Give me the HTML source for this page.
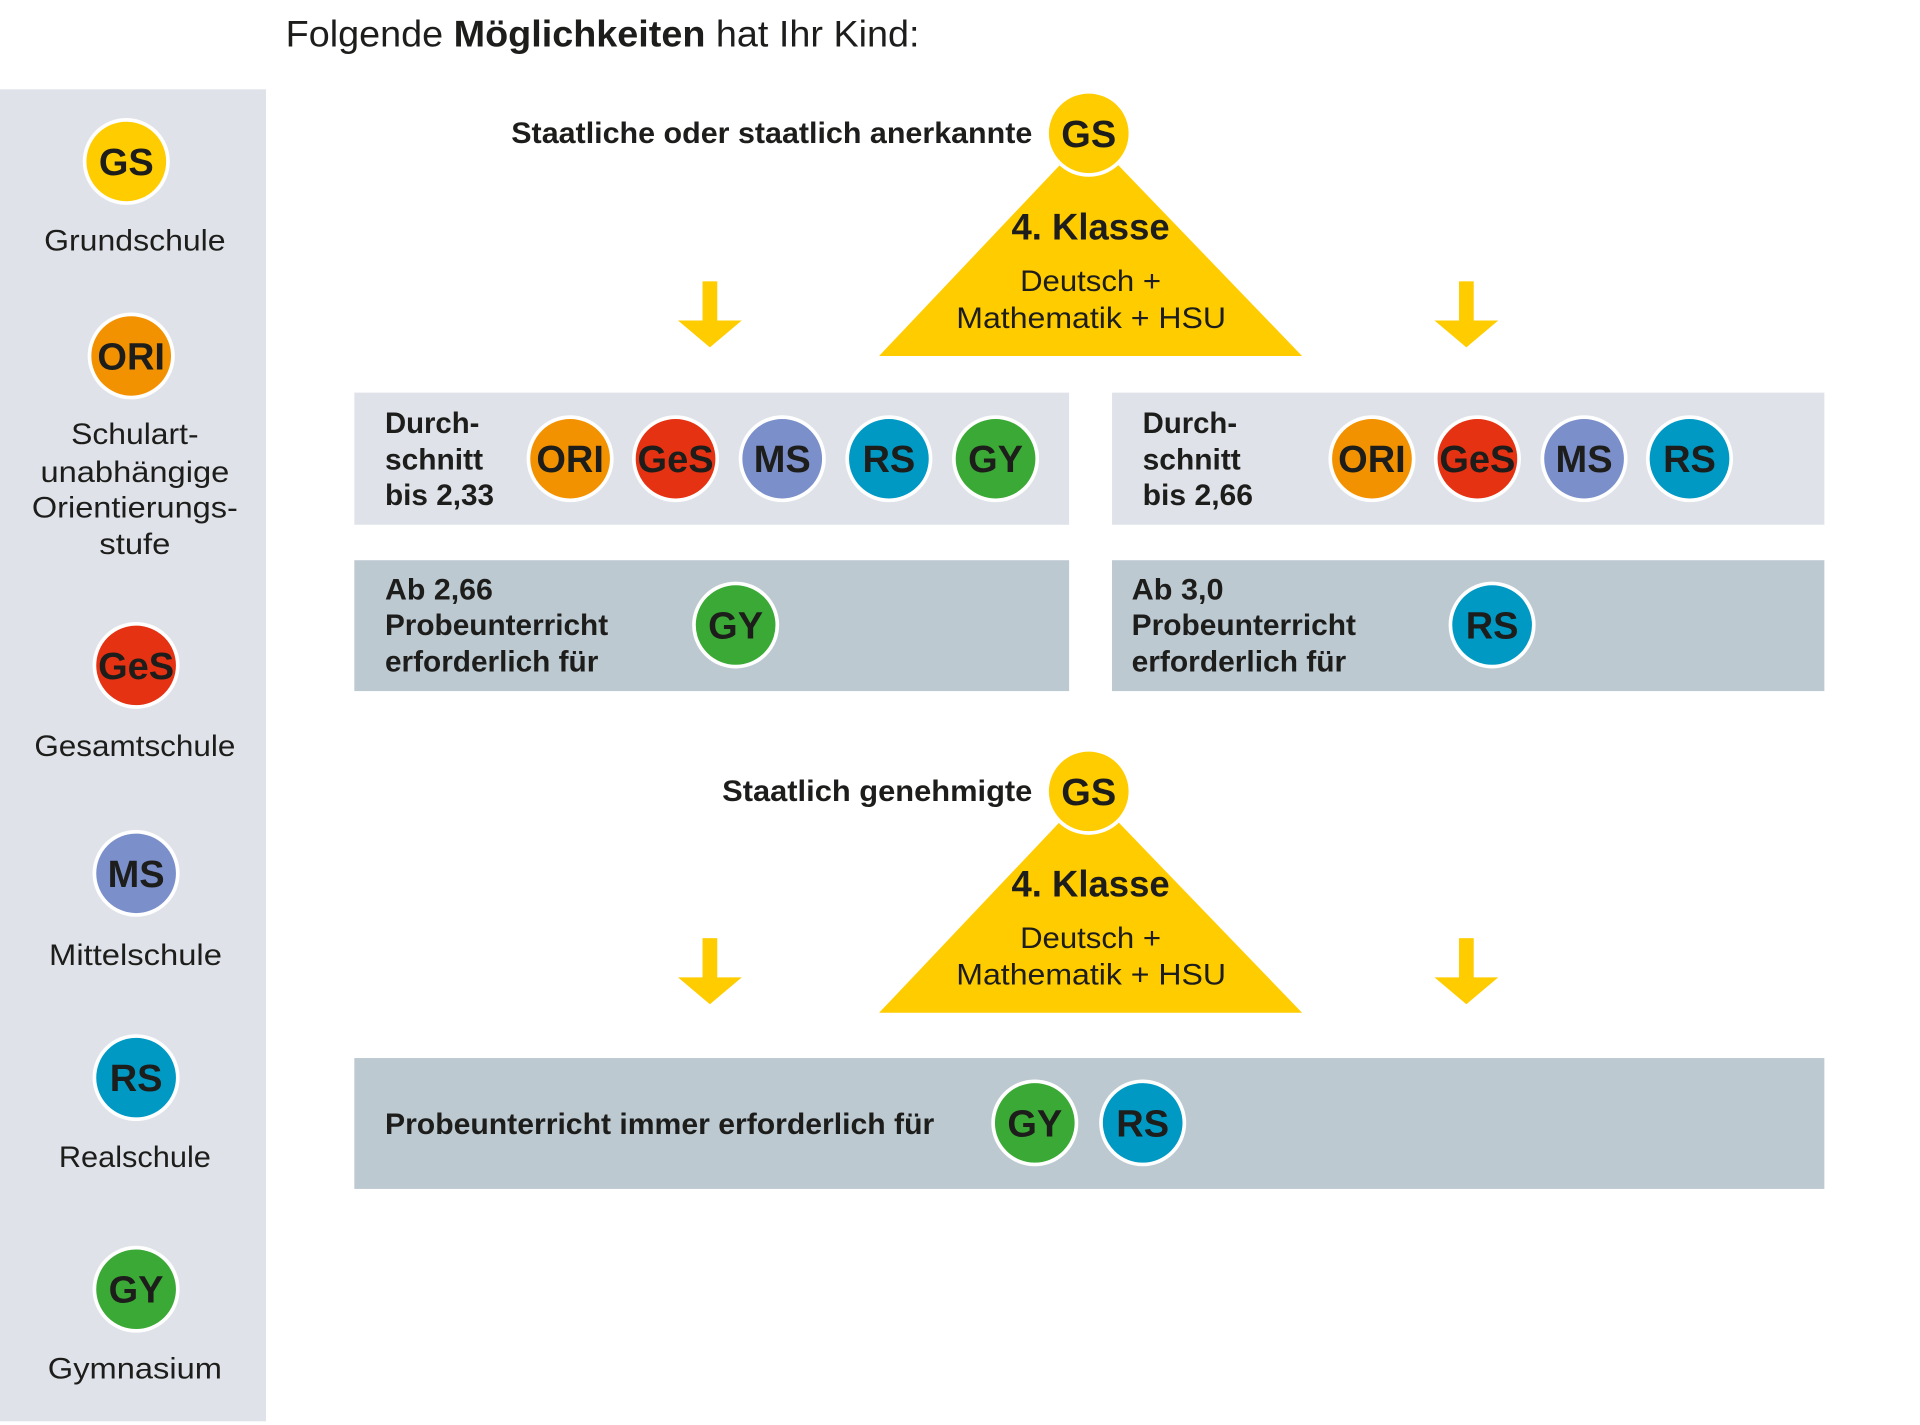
<!DOCTYPE html>
<html><head><meta charset="utf-8"><style>
html,body{margin:0;padding:0;background:#fff;}
svg{display:block;}
text{font-family:"Liberation Sans Narrow","Liberation Sans",sans-serif;fill:#1d1d1b;}
.b{font-weight:bold;}
.c{font-weight:bold;font-size:31px;text-anchor:middle;}
</style></head><body>
<svg width="1920" height="1425" viewBox="0 0 1566 1165" preserveAspectRatio="none" xmlns="http://www.w3.org/2000/svg">
<defs>
<g id="arr"><rect x="-6" y="0" width="12" height="34" fill="#ffcc00"/><polygon points="-26,32 26,32 0,54" fill="#ffcc00"/></g>
</defs>
<text x="233" y="38" font-size="30" textLength="517" lengthAdjust="spacingAndGlyphs" style="font-weight:300">Folgende <tspan class="b">Möglichkeiten</tspan> hat Ihr Kind:</text>
<rect x="0" y="73" width="217" height="1089" fill="#dfe3e9"/>
<g font-size="24">
<text x="36" y="205" textLength="148" lengthAdjust="spacingAndGlyphs">Grundschule</text>
<text x="58" y="363" textLength="104" lengthAdjust="spacingAndGlyphs">Schulart-</text>
<text x="33" y="394" textLength="154" lengthAdjust="spacingAndGlyphs">unabhängige</text>
<text x="26" y="423" textLength="168" lengthAdjust="spacingAndGlyphs">Orientierungs-</text>
<text x="81" y="453" textLength="58" lengthAdjust="spacingAndGlyphs">stufe</text>
<text x="28" y="618" textLength="164" lengthAdjust="spacingAndGlyphs">Gesamtschule</text>
<text x="40" y="789" textLength="141" lengthAdjust="spacingAndGlyphs">Mittelschule</text>
<text x="48" y="954" textLength="124" lengthAdjust="spacingAndGlyphs">Realschule</text>
<text x="39" y="1127" textLength="142" lengthAdjust="spacingAndGlyphs">Gymnasium</text>
</g>
<polygon points="888,110 1062,291 717,291" fill="#ffcc00"/>
<polygon points="888,647 1062,828 717,828" fill="#ffcc00"/>
<use href="#arr" x="579" y="230"/><use href="#arr" x="1196" y="230"/>
<use href="#arr" x="579" y="767"/><use href="#arr" x="1196" y="767"/>
<g class="b" font-size="24">
<text x="417" y="117" textLength="425" lengthAdjust="spacingAndGlyphs">Staatliche oder staatlich anerkannte</text>
<text x="589" y="655" textLength="253" lengthAdjust="spacingAndGlyphs">Staatlich genehmigte</text>
<text x="825" y="196" font-size="30" textLength="129" lengthAdjust="spacingAndGlyphs">4. Klasse</text>
<text x="825" y="733" font-size="30" textLength="129" lengthAdjust="spacingAndGlyphs">4. Klasse</text>
</g>
<g font-size="24">
<text x="832" y="238" textLength="115" lengthAdjust="spacingAndGlyphs">Deutsch +</text>
<text x="780" y="268" textLength="220" lengthAdjust="spacingAndGlyphs">Mathematik + HSU</text>
<text x="832" y="775" textLength="115" lengthAdjust="spacingAndGlyphs">Deutsch +</text>
<text x="780" y="805" textLength="220" lengthAdjust="spacingAndGlyphs">Mathematik + HSU</text>
</g>
<rect x="289" y="321" width="583" height="108" fill="#dfe3e9"/>
<rect x="907" y="321" width="581" height="108" fill="#dfe3e9"/>
<rect x="289" y="458" width="583" height="107" fill="#bdc9d1"/>
<rect x="907" y="458" width="581" height="107" fill="#bdc9d1"/>
<rect x="289" y="865" width="1199" height="107" fill="#bdc9d1"/>
<g class="b" font-size="24">
<text x="314" y="354" textLength="77" lengthAdjust="spacingAndGlyphs">Durch-</text>
<text x="314" y="384" textLength="80" lengthAdjust="spacingAndGlyphs">schnitt</text>
<text x="314" y="413" textLength="89" lengthAdjust="spacingAndGlyphs">bis 2,33</text>
<text x="932" y="354" textLength="77" lengthAdjust="spacingAndGlyphs">Durch-</text>
<text x="932" y="384" textLength="80" lengthAdjust="spacingAndGlyphs">schnitt</text>
<text x="932" y="413" textLength="90" lengthAdjust="spacingAndGlyphs">bis 2,66</text>
<text x="314" y="490" textLength="88" lengthAdjust="spacingAndGlyphs">Ab 2,66</text>
<text x="314" y="519" textLength="182" lengthAdjust="spacingAndGlyphs">Probeunterricht</text>
<text x="314" y="549" textLength="174" lengthAdjust="spacingAndGlyphs">erforderlich für</text>
<text x="923" y="490" textLength="75" lengthAdjust="spacingAndGlyphs">Ab 3,0</text>
<text x="923" y="519" textLength="183" lengthAdjust="spacingAndGlyphs">Probeunterricht</text>
<text x="923" y="549" textLength="175" lengthAdjust="spacingAndGlyphs">erforderlich für</text>
<text x="314" y="927" textLength="448" lengthAdjust="spacingAndGlyphs">Probeunterricht immer erforderlich für</text>
</g>
<g stroke="#fff" stroke-width="3">
<circle cx="103" cy="132" r="34" fill="#ffcc00"/>
<circle cx="107" cy="291" r="34" fill="#f39200"/>
<circle cx="111" cy="544" r="34" fill="#e53212"/>
<circle cx="111" cy="714" r="34" fill="#7b8fca"/>
<circle cx="111" cy="881" r="34" fill="#0099c4"/>
<circle cx="111" cy="1054" r="34" fill="#3aa935"/>
<circle cx="888" cy="109" r="34" fill="#ffcc00"/>
<circle cx="888" cy="647" r="34" fill="#ffcc00"/>
<circle cx="465" cy="375" r="34" fill="#f39200"/>
<circle cx="551" cy="375" r="34" fill="#e53212"/>
<circle cx="638" cy="375" r="34" fill="#7b8fca"/>
<circle cx="725" cy="375" r="34" fill="#0099c4"/>
<circle cx="812" cy="375" r="34" fill="#3aa935"/>
<circle cx="1119" cy="375" r="34" fill="#f39200"/>
<circle cx="1205" cy="375" r="34" fill="#e53212"/>
<circle cx="1292" cy="375" r="34" fill="#7b8fca"/>
<circle cx="1378" cy="375" r="34" fill="#0099c4"/>
<circle cx="600" cy="511" r="34" fill="#3aa935"/>
<circle cx="1217" cy="511" r="34" fill="#0099c4"/>
<circle cx="844" cy="918" r="34" fill="#3aa935"/>
<circle cx="932" cy="918" r="34" fill="#0099c4"/>
</g>
<g>
<text class="c" x="103" y="143">GS</text>
<text class="c" x="107" y="302">ORI</text>
<text class="c" x="111" y="555">GeS</text>
<text class="c" x="111" y="725">MS</text>
<text class="c" x="111" y="892">RS</text>
<text class="c" x="111" y="1065">GY</text>
<text class="c" x="888" y="120">GS</text>
<text class="c" x="888" y="658">GS</text>
<text class="c" x="465" y="386">ORI</text>
<text class="c" x="551" y="386">GeS</text>
<text class="c" x="638" y="386">MS</text>
<text class="c" x="725" y="386">RS</text>
<text class="c" x="812" y="386">GY</text>
<text class="c" x="1119" y="386">ORI</text>
<text class="c" x="1205" y="386">GeS</text>
<text class="c" x="1292" y="386">MS</text>
<text class="c" x="1378" y="386">RS</text>
<text class="c" x="600" y="522">GY</text>
<text class="c" x="1217" y="522">RS</text>
<text class="c" x="844" y="929">GY</text>
<text class="c" x="932" y="929">RS</text>
</g>
</svg>
</body></html>
